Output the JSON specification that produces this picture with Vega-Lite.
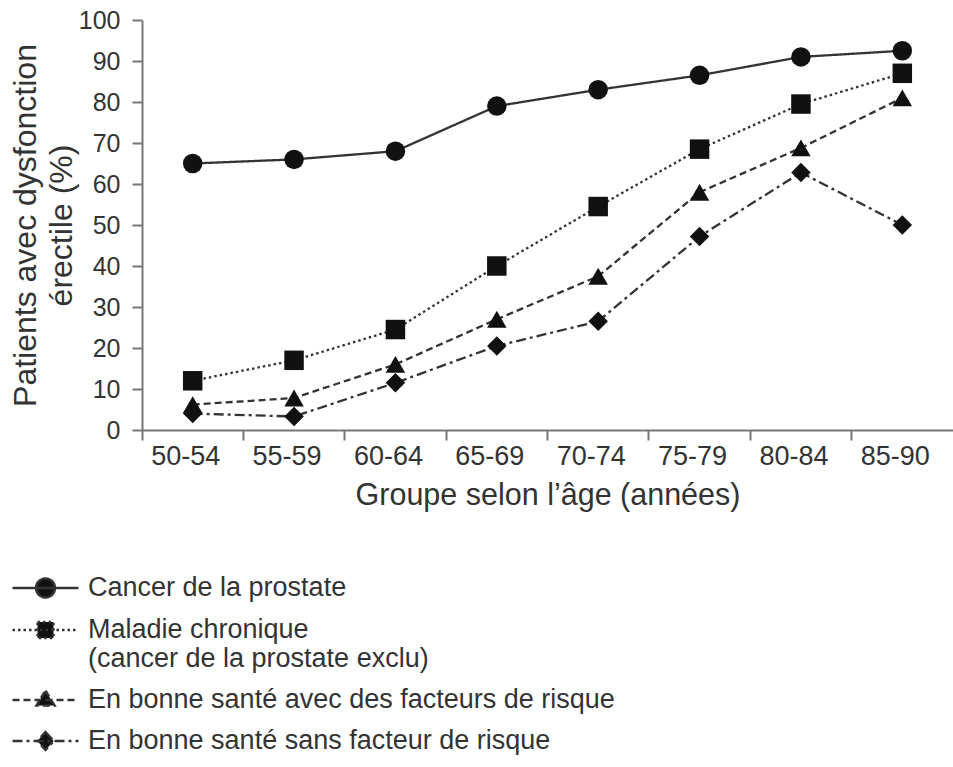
{
  "$schema": "https://vega.github.io/schema/vega-lite/v6.json",
  "width": 811,
  "height": 410,
  "autosize": "none",
  "padding": {"left": 142, "top": 20, "right": 0, "bottom": 337},
  "background": "white",
  "config": {"font": "Liberation Sans", "view": {"stroke": null}},
  "data": {
    "values": [
      {"serie": "Cancer de la prostate", "age": "50-54", "pct": 65},
      {"serie": "Cancer de la prostate", "age": "55-59", "pct": 66},
      {"serie": "Cancer de la prostate", "age": "60-64", "pct": 68},
      {"serie": "Cancer de la prostate", "age": "65-69", "pct": 79},
      {"serie": "Cancer de la prostate", "age": "70-74", "pct": 83},
      {"serie": "Cancer de la prostate", "age": "75-79", "pct": 86.5},
      {"serie": "Cancer de la prostate", "age": "80-84", "pct": 91},
      {"serie": "Cancer de la prostate", "age": "85-90", "pct": 92.5},
      {"serie": "Maladie chronique", "age": "50-54", "pct": 12},
      {"serie": "Maladie chronique", "age": "55-59", "pct": 17},
      {"serie": "Maladie chronique", "age": "60-64", "pct": 24.5},
      {"serie": "Maladie chronique", "age": "65-69", "pct": 40},
      {"serie": "Maladie chronique", "age": "70-74", "pct": 54.5},
      {"serie": "Maladie chronique", "age": "75-79", "pct": 68.5},
      {"serie": "Maladie chronique", "age": "80-84", "pct": 79.5},
      {"serie": "Maladie chronique", "age": "85-90", "pct": 87},
      {"serie": "En bonne santé avec des facteurs de risque", "age": "50-54", "pct": 6.2},
      {"serie": "En bonne santé avec des facteurs de risque", "age": "55-59", "pct": 7.8},
      {"serie": "En bonne santé avec des facteurs de risque", "age": "60-64", "pct": 16},
      {"serie": "En bonne santé avec des facteurs de risque", "age": "65-69", "pct": 27},
      {"serie": "En bonne santé avec des facteurs de risque", "age": "70-74", "pct": 37.5},
      {"serie": "En bonne santé avec des facteurs de risque", "age": "75-79", "pct": 58},
      {"serie": "En bonne santé avec des facteurs de risque", "age": "80-84", "pct": 68.8},
      {"serie": "En bonne santé avec des facteurs de risque", "age": "85-90", "pct": 81},
      {"serie": "En bonne santé sans facteur de risque", "age": "50-54", "pct": 4},
      {"serie": "En bonne santé sans facteur de risque", "age": "55-59", "pct": 3.3},
      {"serie": "En bonne santé sans facteur de risque", "age": "60-64", "pct": 11.5},
      {"serie": "En bonne santé sans facteur de risque", "age": "65-69", "pct": 20.5},
      {"serie": "En bonne santé sans facteur de risque", "age": "70-74", "pct": 26.5},
      {"serie": "En bonne santé sans facteur de risque", "age": "75-79", "pct": 47.2},
      {"serie": "En bonne santé sans facteur de risque", "age": "80-84", "pct": 62.8},
      {"serie": "En bonne santé sans facteur de risque", "age": "85-90", "pct": 50}
    ]
  },
  "encoding": {
    "x": {
      "field": "age",
      "type": "nominal",
      "sort": null,
      "scale": {"type": "band", "paddingInner": 0, "paddingOuter": 0},
      "axis": {
        "title": "Groupe selon l’âge (années)",
        "labelAngle": 0,
        "bandPosition": 0,
        "labelFontSize": 27,
        "titleFontSize": 30.5,
        "titleFontWeight": "normal",
        "labelColor": "#333",
        "titleColor": "#333",
        "domainColor": "#777",
        "domainWidth": 2,
        "tickColor": "#777",
        "tickWidth": 2,
        "tickSize": 10,
        "labelPadding": 3,
        "titlePadding": 11,
        "labelOffset": -7,
        "grid": false
      }
    },
    "y": {
      "field": "pct",
      "type": "quantitative",
      "scale": {"domain": [0, 100], "nice": false},
      "axis": {
        "title": ["Patients avec dysfonction", "érectile (%)"],
        "values": [0, 10, 20, 30, 40, 50, 60, 70, 80, 90, 100],
        "labelFontSize": 25,
        "titleFontSize": 32,
        "titleFontWeight": "normal",
        "titleLineHeight": 36,
        "titlePadding": 0,
        "labelColor": "#333",
        "titleColor": "#333",
        "domainColor": "#777",
        "domainWidth": 2,
        "tickColor": "#777",
        "tickWidth": 2,
        "tickSize": 10,
        "labelPadding": 12,
        "grid": false
      }
    }
  },
  "layer": [
    {
      "mark": {"type": "line", "color": "#333", "strokeWidth": 2.3},
      "encoding": {
        "strokeDash": {
          "field": "serie",
          "type": "nominal",
          "sort": null,
          "scale": {"range": [[1, 0], [2.5, 3], [7, 4], [10, 4, 3, 4]]},
          "legend": {
            "orient": "none",
            "legendX": -113,
            "legendY": 551.5,
            "title": null,
            "direction": "vertical",
            "padding": 0,
            "labelFontSize": 27,
            "labelColor": "#333",
            "labelLimit": 0,
            "labelOffset": 26,
            "symbolSize": 900,
            "symbolStrokeWidth": 2.5,
            "symbolFillColor": "#111",
            "rowPadding": 11,
            "symbolType": {"expr": "datum.value == 'Cancer de la prostate' ? 'M-2.2,0L2.2,0M-0.63,0A0.63,0.63,0,1,0,0.63,0A0.63,0.63,0,1,0,-0.63,0Z' : datum.value == 'Maladie chronique' ? 'M-2.2,0L2.2,0M-0.53,-0.53L0.53,-0.53L0.53,0.53L-0.53,0.53Z' : datum.value == 'En bonne santé avec des facteurs de risque' ? 'M-2.2,0L2.2,0M0,-0.62L0.6,0.36L-0.6,0.36Z' : 'M-2.2,0L2.2,0M0,-0.6L0.55,0L0,0.6L-0.55,0Z'"},
            "labelExpr": "datum.label == 'Maladie chronique' ? ['Maladie chronique', '(cancer de la prostate exclu)'] : datum.label",
            "encode": {
              "symbols": {
                "fill": {"value": "#111"},
                "stroke": {"value": "#222"},
                "strokeWidth": {"value": 2.5},
                "opacity": {"value": 1}
              },
              "labels": {
                "dy": {"value": {"expr": "datum.value == 'Maladie chronique' ? 16 : 0"}},
                "lineHeight": {"value": 32}
              }
            }
          }
        }
      }
    },
    {
      "mark": {"type": "point", "filled": true, "color": "#111", "opacity": 1, "size": 380},
      "encoding": {
        "shape": {
          "field": "serie",
          "type": "nominal",
          "scale": {
            "domain": ["Cancer de la prostate", "Maladie chronique", "En bonne santé avec des facteurs de risque", "En bonne santé sans facteur de risque"],
            "range": ["circle", "square", "triangle-up", "diamond"]
          },
          "legend": null
        }
      }
    }
  ]
}
